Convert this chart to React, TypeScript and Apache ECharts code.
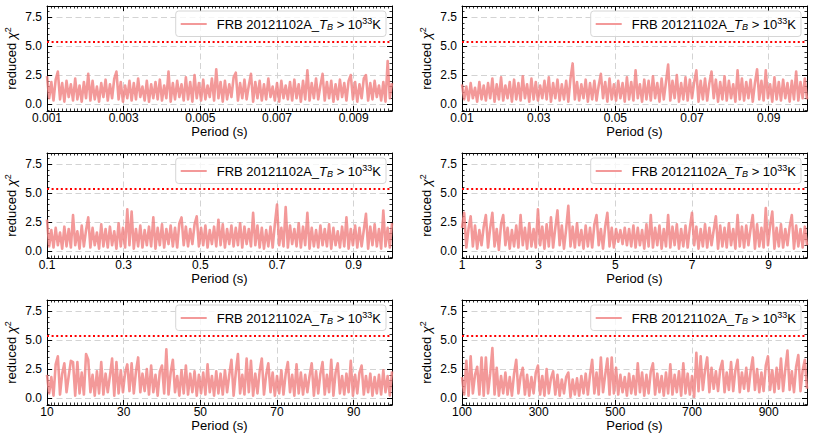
import React, { useEffect, useRef } from "react";
import * as echarts from "echarts";

const SERIES_NAME = "FRB 20121102A_TB > 10^33K";
const LEGEND_TEXT = "{n|FRB 20121102A_}{i|T}{s|B}{n| > 10}{p|33}{n|K}";
const Y_NAME = "{n|reduced }{i|χ}{p|2}";
const X_NAME = "Period (s)";

const PERIOD_RANGES: [number, number][] = [
  [0.001, 0.01],
  [0.01, 0.1],
  [0.1, 1],
  [1, 10],
  [10, 100],
  [100, 1000],
];

const X_TICKS: number[][] = [
  [0.001, 0.003, 0.005, 0.007, 0.009],
  [0.01, 0.03, 0.05, 0.07, 0.09],
  [0.1, 0.3, 0.5, 0.7, 0.9],
  [1, 3, 5, 7, 9],
  [10, 30, 50, 70, 90],
  [100, 300, 500, 700, 900],
];

const Y_TICKS = [0, 2.5, 5.0, 7.5];
const Y_MINOR_TICKS = [-0.5, 0, 0.5, 1, 1.5, 2, 2.5, 3, 3.5, 4, 4.5, 5, 5.5, 6, 6.5, 7, 7.5, 8];
const Y_RANGE: [number, number] = [-0.6, 8.45];
const THRESHOLD = 5.33;

const CHI_MS1 = [
  2.4, 0.5, 1.9, 0.3, 2.1, 2.8, 0.4, 1.8, 0.2, 2.0,
  0.6, 1.7, 0.3, 2.2, 0.4, 1.6, 0.2, 1.9, 0.5, 2.6,
  0.3, 2.0, 0.4, 1.5, 0.2, 1.8, 0.6, 2.1, 0.3, 1.7,
  0.5, 2.2, 2.8, 0.4, 1.9, 0.2, 1.6, 0.5, 2.0, 0.3,
  1.8, 0.4, 2.2, 0.6, 1.5, 0.3, 2.0, 0.2, 1.7, 0.5,
  1.9, 0.4, 2.1, 0.3, 1.6, 0.5, 2.8, 0.2, 1.8, 0.4,
  2.0, 0.6, 1.7, 0.3, 2.3, 0.4, 1.9, 0.2, 2.5, 0.5,
  1.8, 0.3, 2.1, 0.4, 1.6, 0.6, 2.2, 0.3, 3.0, 0.5,
  1.9, 0.2, 2.0, 0.4, 1.7, 0.6, 2.3, 2.7, 0.3, 1.8,
  0.5, 2.1, 0.4, 1.6, 2.6, 0.2, 1.9, 0.5, 2.0, 0.3,
  1.7, 0.4, 2.2, 0.6, 1.5, 0.3, 1.8, 0.2, 2.0, 0.5,
  1.6, 0.4, 1.9, 0.3, 2.1, 0.5, 1.7, 0.2, 2.0, 0.4,
  2.9, 0.3, 1.8, 0.5, 2.2, 0.4, 1.6, 2.6, 0.3, 1.9,
  0.5, 2.0, 0.2, 1.7, 0.4, 2.1, 0.6, 1.8, 0.3, 2.0,
  2.5, 0.4, 1.9, 0.2, 1.7, 0.5, 2.2, 2.5, 0.3, 1.8,
  0.4, 2.0, 0.6, 1.6, 0.3, 1.9, 0.2, 3.7, 0.5, 1.8,
];

const CHI_MS10 = [
  1.7, 0.4, 1.5, 0.3, 1.8, 0.5, 1.4, 0.2, 1.9, 0.4,
  1.6, 0.3, 1.8, 0.5, 2.2, 0.2, 1.7, 0.4, 2.3, 0.3,
  1.6, 0.5, 1.9, 0.2, 2.1, 0.4, 1.8, 0.3, 2.4, 0.5,
  1.7, 0.2, 2.2, 0.4, 1.9, 0.3, 1.6, 0.5, 2.0, 0.4,
  2.3, 0.2, 1.8, 0.5, 2.1, 0.3, 1.7, 0.4, 2.0, 0.2,
  2.2, 3.5, 0.4, 1.9, 0.3, 1.7, 0.5, 2.1, 0.2, 1.8,
  0.4, 2.0, 0.3, 1.6, 2.6, 0.5, 1.9, 0.2, 2.2, 0.4,
  1.7, 0.3, 2.0, 0.5, 1.8, 0.2, 2.3, 0.4, 1.9, 0.3,
  2.9, 0.5, 1.7, 0.2, 2.1, 0.4, 2.0, 0.3, 2.4, 0.5,
  1.8, 0.2, 2.2, 0.4, 1.9, 3.4, 0.3, 2.0, 0.5, 2.5,
  0.2, 1.8, 0.4, 2.3, 0.3, 2.1, 0.5, 1.9, 2.9, 0.2,
  2.0, 0.4, 2.2, 0.3, 1.8, 2.8, 0.5, 2.1, 0.2, 1.9,
  0.4, 2.4, 0.3, 2.0, 0.5, 1.7, 0.2, 2.9, 0.4, 2.2,
  0.3, 1.9, 0.5, 2.1, 0.2, 1.8, 3.0, 0.4, 2.0, 0.3,
  2.9, 0.5, 1.7, 0.2, 2.3, 0.4, 1.9, 0.3, 2.1, 0.5,
  1.8, 0.2, 2.0, 0.4, 2.8, 0.3, 1.9, 0.5, 2.2, 0.4,
];

const CHI_MS100 = [
  2.7, 0.4, 1.8, 0.3, 2.0, 0.5, 1.6, 0.2, 2.1, 0.4,
  1.9, 0.3, 3.1, 0.5, 1.7, 0.2, 2.2, 0.4, 1.8, 2.9,
  0.3, 2.0, 0.5, 1.6, 0.2, 2.3, 0.4, 1.9, 0.3, 2.1,
  0.5, 1.7, 0.2, 2.4, 0.4, 2.0, 0.3, 3.6, 0.5, 3.4,
  0.2, 1.9, 0.4, 2.2, 0.3, 1.8, 0.5, 2.1, 0.4, 2.9,
  0.2, 2.0, 0.5, 2.3, 0.3, 1.9, 0.6, 2.2, 0.4, 2.0,
  0.3, 2.4, 2.9, 0.5, 2.1, 0.4, 1.9, 0.6, 2.3, 3.0,
  0.4, 2.0, 0.5, 2.2, 0.3, 1.8, 0.6, 2.1, 0.4, 2.7,
  0.5, 2.3, 0.3, 1.9, 0.6, 2.2, 0.4, 2.0, 0.5, 2.4,
  0.3, 2.1, 0.6, 1.9, 0.4, 3.3, 0.5, 2.2, 0.3, 2.0,
  0.2, 1.8, 0.4, 2.1, 0.3, 2.3, 4.0, 0.5, 2.0, 0.4,
  3.8, 0.3, 2.2, 0.6, 1.9, 0.4, 2.4, 0.3, 2.1, 0.5,
  3.3, 0.2, 2.0, 0.4, 1.8, 0.3, 2.2, 0.5, 1.9, 0.4,
  2.3, 0.2, 2.0, 0.5, 1.7, 0.3, 2.1, 0.4, 2.9, 0.2,
  1.9, 0.5, 2.2, 0.3, 2.0, 0.4, 1.8, 3.2, 0.2, 2.1,
  0.5, 2.3, 0.4, 1.9, 0.2, 3.5, 0.4, 2.0, 0.3, 2.4,
];

const CHI_S1 = [
  2.0, 3.3, 0.3, 1.9, 3.0, 0.4, 2.2, 0.2, 1.8, 0.5,
  2.1, 3.1, 0.3, 2.0, 3.3, 0.4, 1.9, 0.1, 2.3, 3.1,
  0.5, 2.0, 0.2, 1.8, 0.4, 2.2, 0.3, 3.1, 0.5, 2.0,
  0.2, 2.4, 0.4, 1.9, 0.3, 3.6, 0.5, 2.1, 0.2, 2.3,
  0.4, 2.9, 0.3, 2.0, 3.5, 0.5, 2.2, 0.2, 1.9, 3.9,
  0.4, 2.1, 0.3, 2.4, 0.5, 1.8, 0.2, 2.2, 0.4, 2.0,
  0.3, 2.3, 3.1, 0.5, 1.9, 0.2, 2.1, 3.3, 0.4, 2.0,
  0.3, 1.9, 0.8, 1.8, 0.6, 2.0, 0.5, 1.9, 0.4, 2.2,
  0.3, 2.0, 0.5, 1.8, 0.2, 2.3, 0.4, 3.1, 0.3, 2.0,
  0.5, 2.2, 0.2, 1.9, 0.4, 3.1, 0.3, 2.1, 0.5, 2.3,
  0.2, 1.9, 0.4, 2.2, 0.3, 2.0, 3.3, 0.5, 2.1, 0.2,
  1.9, 0.4, 2.3, 0.3, 2.0, 0.5, 1.8, 3.0, 0.2, 2.2,
  0.4, 2.0, 0.3, 2.4, 0.5, 1.9, 0.2, 3.1, 0.4, 2.1,
  0.3, 2.2, 0.5, 1.9, 3.1, 0.2, 2.3, 0.4, 2.0, 0.3,
  3.7, 0.5, 2.2, 3.4, 0.2, 2.0, 0.4, 2.3, 0.3, 1.9,
  0.5, 2.1, 3.1, 0.2, 2.2, 0.4, 1.9, 0.3, 2.1, 0.5,
];

const CHI_S10 = [
  2.0, 0.4, 1.8, 0.2, 2.9, 3.6, 0.3, 2.1, 3.0, 0.5,
  1.9, 3.2, 3.1, 0.2, 3.1, 0.4, 2.2, 0.3, 3.8, 3.3,
  0.5, 2.0, 0.2, 2.3, 0.4, 3.1, 0.3, 2.1, 0.5, 1.9,
  3.4, 0.2, 3.1, 0.4, 2.4, 0.5, 2.2, 2.9, 0.6, 3.0,
  0.4, 2.3, 3.5, 0.5, 2.1, 0.6, 2.5, 0.3, 2.8, 0.5,
  2.0, 0.2, 2.3, 2.8, 0.4, 4.2, 0.3, 2.2, 3.3, 0.5,
  1.9, 0.2, 2.4, 0.4, 2.8, 0.3, 2.1, 0.5, 2.3, 0.2,
  2.0, 0.4, 2.2, 0.3, 2.9, 0.5, 1.9, 0.2, 2.3, 0.4,
  2.1, 0.3, 2.4, 0.5, 2.0, 3.3, 0.2, 2.2, 3.8, 0.4,
  2.0, 0.3, 3.4, 0.5, 3.2, 0.2, 2.1, 0.4, 2.3, 3.4,
  0.3, 2.0, 3.0, 0.5, 2.2, 0.2, 1.9, 0.4, 2.4, 0.3,
  2.1, 3.1, 0.5, 2.0, 0.2, 2.9, 0.4, 2.2, 0.3, 2.0,
  0.5, 1.9, 3.0, 0.2, 2.3, 0.4, 2.1, 3.1, 0.3, 2.0,
  0.5, 3.3, 0.2, 2.2, 3.0, 0.4, 1.9, 0.3, 2.1, 0.5,
  3.2, 0.2, 2.0, 0.4, 2.2, 2.8, 0.3, 1.9, 0.5, 2.1,
  0.2, 1.8, 0.4, 2.0, 0.3, 2.4, 0.5, 1.9, 0.2, 2.3,
];

const CHI_S100 = [
  1.8, 0.3, 3.2, 0.2, 3.6, 0.4, 2.0, 2.7, 0.3, 3.5,
  0.2, 3.5, 0.4, 2.1, 4.3, 0.3, 2.6, 0.2, 1.9, 0.4,
  2.2, 0.3, 1.8, 0.2, 2.1, 3.3, 0.4, 1.9, 2.6, 0.3,
  2.0, 0.2, 1.8, 0.4, 2.2, 2.8, 0.3, 1.9, 0.2, 2.5,
  0.4, 1.7, 2.3, 0.3, 2.0, 0.2, 1.6, 0.4, 1.8, 2.2,
  0.1, 1.6, 0.3, 1.7, 0.2, 1.9, 0.4, 2.1, 0.3, 2.0,
  3.3, 0.4, 2.2, 0.3, 3.5, 0.5, 2.0, 3.4, 0.3, 3.5,
  0.4, 2.6, 0.3, 2.0, 0.5, 1.8, 0.2, 2.1, 0.4, 1.9,
  0.3, 3.0, 0.5, 2.2, 0.2, 2.0, 0.4, 2.3, 3.0, 0.3,
  2.1, 0.5, 1.9, 0.2, 2.2, 0.4, 2.9, 0.3, 2.0, 0.5,
  2.3, 0.2, 3.0, 0.4, 2.1, 0.3, 1.9, 0.1, 3.9, 0.6,
  3.6, 0.7, 2.4, 3.5, 0.5, 2.6, 0.8, 2.3, 0.6, 2.5,
  3.2, 0.5, 2.2, 0.7, 3.1, 0.6, 2.4, 3.3, 0.5, 2.2,
  0.8, 2.6, 0.6, 2.3, 3.5, 0.7, 2.5, 0.5, 2.2, 0.6,
  2.8, 3.6, 0.7, 2.4, 0.5, 2.6, 0.8, 3.4, 0.6, 2.5,
  4.1, 0.7, 2.3, 0.5, 2.7, 3.7, 0.6, 2.4, 3.3, 0.8,
];

const PANEL_VALUES = [CHI_MS1, CHI_MS10, CHI_MS100, CHI_S1, CHI_S10, CHI_S100];

const FONT = "'Liberation Sans', Arial, Helvetica, sans-serif";
const LINE_COLOR = "rgba(240,128,128,0.8)";
const GRID_W = 345;
const GRID_H = 105;
const GRID_POS = [
  { left: 47, top: 6 },
  { left: 462, top: 6 },
  { left: 47, top: 153 },
  { left: 462, top: 153 },
  { left: 47, top: 300 },
  { left: 462, top: 300 },
];

function minorTicks(lo: number, hi: number, n: number): number[] {
  const out: number[] = [];
  const step = (hi - lo) / n;
  for (let k = 0; k <= n; k++) out.push(Number((lo + k * step).toPrecision(10)));
  return out;
}

function buildOption() {
  const grid: any[] = [];
  const xAxis: any[] = [];
  const yAxis: any[] = [];
  const legend: any[] = [];
  const series: any[] = [];
  const black = { color: "#000", width: 1 };
  const nameStyle = {
    color: "#000",
    fontSize: 13,
    fontFamily: FONT,
    rich: {
      n: { fontSize: 13, fontFamily: FONT, color: "#000" },
      i: { fontSize: 13, fontFamily: FONT, fontStyle: "italic", color: "#000" },
      p: { fontSize: 9, fontFamily: FONT, color: "#000", padding: [0, 0, 7, 0] },
    },
  };

  GRID_POS.forEach((g, i) => {
    const [lo, hi] = PERIOD_RANGES[i];
    grid.push({
      left: g.left,
      top: g.top,
      width: GRID_W,
      height: GRID_H,
      containLabel: false,
      outerBoundsMode: "none",
      show: false,
    });
    const xMinor = minorTicks(lo, hi, 90);
    const xBase = { type: "value", gridIndex: i, min: lo, max: hi };
    const yBase = { type: "value", gridIndex: i, min: Y_RANGE[0], max: Y_RANGE[1] };
    xAxis.push({
      ...xBase,
      position: "bottom",
      axisLine: { show: true, onZero: false, lineStyle: black },
      axisTick: { show: true, inside: true, length: 5, customValues: X_TICKS[i], lineStyle: black },
      axisLabel: {
        show: true,
        customValues: X_TICKS[i],
        formatter: (v: number) => String(v),
        margin: 1,
        color: "#000",
        fontSize: 12,
        fontFamily: FONT,
      },
      splitLine: { show: true, lineStyle: { color: "#d3d3d3", type: [6, 3.5], width: 1 } },
      minorTick: { show: false },
      name: X_NAME,
      nameLocation: "middle",
      nameGap: 14,
      nameMoveOverlap: false,
      nameTextStyle: { color: "#000", fontSize: 13, fontFamily: FONT },
    });
    xAxis.push({
      ...xBase,
      position: "top",
      axisLine: { show: true, onZero: false, lineStyle: black },
      axisTick: { show: true, inside: true, length: 5, customValues: X_TICKS[i], lineStyle: black },
      axisLabel: { show: false },
      splitLine: { show: false },
    });
    for (let m = 0; m < 2; m++) {
      xAxis.push({
        ...xBase,
        position: m === 0 ? "bottom" : "top",
        axisLine: { show: false, onZero: false },
        axisTick: { show: true, inside: true, length: 2.5, customValues: xMinor, lineStyle: { color: "#000", width: 0.8 } },
        axisLabel: { show: false },
        splitLine: { show: false },
      });
    }
    yAxis.push({
      ...yBase,
      position: "left",
      axisLine: { show: true, onZero: false, lineStyle: black },
      axisTick: { show: true, inside: true, length: 5, customValues: Y_TICKS, lineStyle: black },
      axisLabel: {
        show: true,
        customValues: Y_TICKS,
        formatter: (v: number) => v.toFixed(1),
        margin: 5,
        color: "#000",
        fontSize: 12,
        fontFamily: FONT,
      },
      splitLine: { show: true, lineStyle: { color: "#d3d3d3", type: [6, 3.5], width: 1 } },
      name: Y_NAME,
      nameLocation: "middle",
      nameGap: 28,
      nameRotate: 90,
      nameMoveOverlap: false,
      nameTextStyle: nameStyle,
    });
    yAxis.push({
      ...yBase,
      position: "right",
      axisLine: { show: true, onZero: false, lineStyle: black },
      axisTick: { show: true, inside: true, length: 5, customValues: Y_TICKS, lineStyle: black },
      axisLabel: { show: false },
      splitLine: { show: false },
    });
    for (let m = 0; m < 2; m++) {
      yAxis.push({
        ...yBase,
        position: m === 0 ? "left" : "right",
        axisLine: { show: false, onZero: false },
        axisTick: { show: true, inside: true, length: 2.5, customValues: Y_MINOR_TICKS, lineStyle: { color: "#000", width: 0.8 } },
        axisLabel: { show: false },
        splitLine: { show: false },
      });
    }

    legend.push({
      top: g.top + 5,
      right: 814 - (g.left + GRID_W) + 6,
      data: [SERIES_NAME],
      selectedMode: false,
      backgroundColor: "rgba(255,255,255,0.8)",
      borderColor: "#d6d6d6",
      borderWidth: 1,
      borderRadius: 3,
      padding: [5, 5, 5, 5],
      icon: "rect",
      itemWidth: 26,
      itemHeight: 2,
      itemStyle: { color: LINE_COLOR },
      formatter: () => LEGEND_TEXT,
      textStyle: {
        color: "#000",
        fontSize: 13,
        fontFamily: FONT,
        padding: [0, 0, 0, 5],
        rich: {
          n: { fontSize: 13, fontFamily: FONT, color: "#000" },
          i: { fontSize: 13, fontFamily: FONT, fontStyle: "italic", color: "#000" },
          s: { fontSize: 9, fontFamily: FONT, fontStyle: "italic", color: "#000", padding: [6, 0, 0, 0] },
          p: { fontSize: 9, fontFamily: FONT, color: "#000", padding: [0, 0, 7, 0] },
        },
      },
    });

    const vals = PANEL_VALUES[i];
    const n = vals.length;
    series.push({
      type: "line",
      name: SERIES_NAME,
      xAxisIndex: 4 * i,
      yAxisIndex: 4 * i,
      data: vals.map((v, k) => [lo + (k * (hi - lo)) / (n - 1), v]),
      symbol: "none",
      showSymbol: false,
      silent: true,
      clip: true,
      color: LINE_COLOR,
      lineStyle: { color: LINE_COLOR, width: 2.6, join: "round" },
      itemStyle: { color: LINE_COLOR },
      emphasis: { disabled: true },
      markLine: {
        silent: true,
        symbol: ["none", "none"],
        label: { show: false },
        emphasis: { disabled: true },
        lineStyle: { color: "#ff0000", type: [2, 2.6], width: 2 },
        data: [{ yAxis: THRESHOLD }],
      },
    });
  });

  return {
    animation: false,
    backgroundColor: "#ffffff",
    textStyle: { fontFamily: FONT },
    grid,
    xAxis,
    yAxis,
    legend,
    series,
  };
}

export default function App() {
  const ref = useRef<HTMLDivElement>(null);
  useEffect(() => {
    if (!ref.current) return;
    const chart = echarts.init(ref.current, undefined, { renderer: "svg" });
    chart.setOption(buildOption() as any);
    return () => chart.dispose();
  }, []);
  return (
    <div
      ref={ref}
      style={{ position: "absolute", left: 0, top: 0, width: 814, height: 444, background: "#fff" }}
    />
  );
}
